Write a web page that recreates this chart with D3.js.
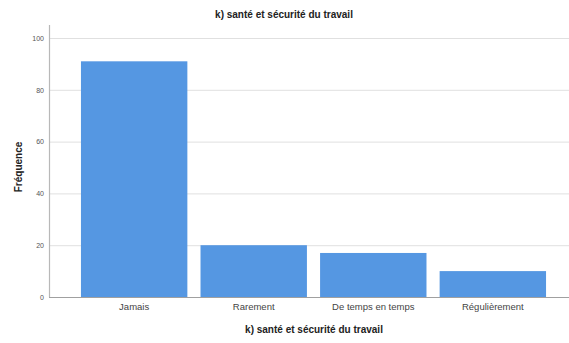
<!DOCTYPE html>
<html>
<head>
<meta charset="utf-8">
<script src="https://cdn.jsdelivr.net/npm/d3@7"></script>
<style>
  html, body { margin: 0; padding: 0; background: #fff; }
  svg { display: block; font-family: "Liberation Sans", Arial, sans-serif; }
</style>
</head>
<body>
<svg id="chart" width="569" height="343"></svg>
<script>
// Réponses à la question k) santé et sécurité du travail
const categories = ["Jamais", "Rarement", "De temps en temps", "Régulièrement"];
const frequencies = [91, 20, 17, 10];
const yTicks = [0, 20, 40, 60, 80, 100];
const chartTitle = "k) santé et sécurité du travail";
const xTitle = "k) santé et sécurité du travail";
const yTitle = "Fréquence";

const svg = d3.select("#chart");
const plot = { left: 49, right: 569, top: 25, bottom: 297 };

const x = d3.scaleBand()
  .domain(categories)
  .range([69, 558])
  .paddingInner(0.11)
  .paddingOuter(0.1);

const y = d3.scaleLinear()
  .domain([0, 100])
  .range([plot.bottom, 38]);

// Lignes de grille horizontales
svg.append("g")
  .selectAll("line")
  .data(yTicks.filter(d => d > 0))
  .join("line")
  .attr("x1", plot.left)
  .attr("x2", plot.right)
  .attr("y1", d => y(d) + 0.5)
  .attr("y2", d => y(d) + 0.5)
  .attr("stroke", "#e0e0e0")
  .attr("stroke-width", 1);

// Barres
svg.append("g")
  .selectAll("rect")
  .data(categories.map((c, i) => ({ c, v: frequencies[i] })))
  .join("rect")
  .attr("x", d => x(d.c))
  .attr("width", x.bandwidth())
  .attr("y", d => y(d.v))
  .attr("height", d => y(0) - y(d.v))
  .attr("fill", "#5597e2");

// Axe Y
const yAxis = d3.axisLeft(y)
  .tickValues(yTicks)
  .tickSize(0)
  .tickPadding(5);
const gy = svg.append("g")
  .attr("transform", `translate(${plot.left},0)`)
  .call(yAxis);
gy.select(".domain").remove();
gy.selectAll("text")
  .attr("fill", "#555")
  .attr("font-size", 7);
svg.append("line")
  .attr("x1", plot.left + 0.5).attr("x2", plot.left + 0.5)
  .attr("y1", plot.top).attr("y2", plot.bottom)
  .attr("stroke", "#b8b8b8").attr("stroke-width", 1.2);

// Axe X
const xAxis = d3.axisBottom(x).tickSize(0).tickPadding(6);
const gx = svg.append("g")
  .attr("transform", `translate(0,${plot.bottom})`)
  .call(xAxis);
gx.select(".domain").remove();
gx.selectAll("text")
  .attr("fill", "#444")
  .attr("font-size", 9.5);
svg.append("line")
  .attr("x1", plot.left).attr("x2", plot.right)
  .attr("y1", plot.bottom + 0.5).attr("y2", plot.bottom + 0.5)
  .attr("stroke", "#a0a0a0").attr("stroke-width", 1);

// Titres
svg.append("text")
  .attr("x", 284).attr("y", 18)
  .attr("text-anchor", "middle")
  .attr("font-size", 10).attr("font-weight", "bold")
  .attr("fill", "#222")
  .text(chartTitle);

svg.append("text")
  .attr("x", 314).attr("y", 333)
  .attr("text-anchor", "middle")
  .attr("font-size", 10).attr("font-weight", "bold")
  .attr("fill", "#222")
  .text(xTitle);

svg.append("text")
  .attr("transform", "translate(22,167) rotate(-90)")
  .attr("text-anchor", "middle")
  .attr("font-size", 10).attr("font-weight", "bold")
  .attr("fill", "#222")
  .text(yTitle);
</script>
</body>
</html>
